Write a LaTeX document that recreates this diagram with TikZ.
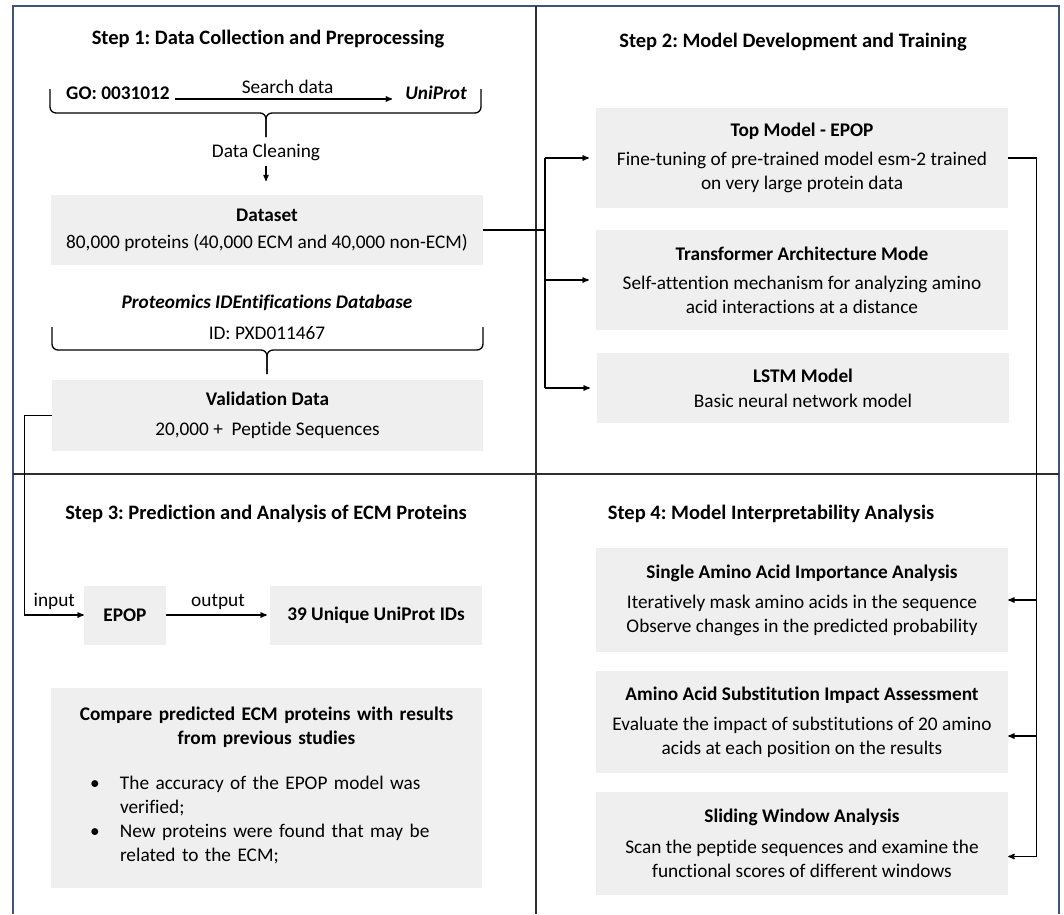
\documentclass[tikz,border=0pt]{standalone}
\usepackage{fontspec}
\setmainfont{Carlito}[Ligatures=NoCommon]
\usepackage{tikz}
\usetikzlibrary{positioning,arrows,calc}
\frenchspacing

\definecolor{boxgray}{RGB}{239,239,239}
\definecolor{framecol}{RGB}{64,82,118}
\definecolor{rulecol}{RGB}{45,45,45}

\begin{document}
\begin{tikzpicture}[x=1pt,y=1pt,>=stealth']
                \tikzstyle{every node}=[fill=none,rectangle,inner sep=5,align=center,font=\fontsize{19.3}{24}\selectfont]
                \tikzstyle{box}=[fill=boxgray,minimum width=412,minimum height=100]
                \tikzstyle{note}=[draw=none,fill=none]
                \tikzstyle{head}=[note,font=\fontsize{19.3}{24}\selectfont\bfseries]
                \tikzstyle{steptitle}=[note,font=\fontsize{20.5}{24}\selectfont\bfseries]
                \tikzstyle{link}=[draw,line width=1.3,->]
                \tikzstyle{brace}=[draw,line width=1.3,rounded corners=6]
                {
                    \useasboundingbox (0,0) rectangle (1064,-914);
                    \draw[framecol,line width=2] (13,-914) -- (13,-6) -- (1059,-6) -- (1059,-914);
                    \draw[rulecol,line width=1.6] (536,-6) -- (536,-914);
                    \draw[rulecol,line width=1.6] (13,-474) -- (1059,-474);

                    \node[steptitle] (step1) at (268,-39) {Step 1: Data Collection and Preprocessing};
                    \node[head] (go) at (118,-93) {GO: 0031012};
                    \node[head] (uniprot) at (436,-93) {\itshape UniProt};
                    \path[->,line width=1.3,shorten >=8]
                        ([yshift=-6]go.east) edge node[note,above] {Search data} ([yshift=-6]uniprot.west);
                    \draw[brace] (50,-89) -- (50,-113) -- (266,-113) -- (266,-137);
                    \draw[brace] (481,-89) -- (481,-113) -- (266,-113) -- (266,-137);
                    \node[note] (clean) at (266,-152) {Data Cleaning};
                    \coordinate (cleanend) at (266,-181);
                    \draw[->,line width=1.2] (clean.south) -- (cleanend);
                    \node[box,minimum width=432,minimum height=70] (dataset) at (267,-230)
                        {\textbf{Dataset}\\[3pt]80,000 proteins (40,000 ECM and 40,000 non-ECM)};
                    \node[head] (pride) at (267,-303) {\itshape Proteomics IDEntifications Database};
                    \node[note] (prideid) at (267,-333) {ID: PXD011467};
                    \draw[brace] (52,-327) -- (52,-350) -- (267,-350) -- (267,-374);
                    \draw[brace] (483,-327) -- (483,-350) -- (267,-350) -- (267,-374);
                    \node[box,minimum width=431,minimum height=71] (valid) at (267.5,-415.5)
                        {\textbf{Validation Data}\\[6pt]20,000 +\ \ Peptide Sequences};

                    \node[steptitle] (step2) at (793,-42) {Step 2: Model Development and Training};
                    \node[box] (epopm) at (802,-158)
                        {\textbf{Top Model - EPOP}\\[5pt]Fine-tuning of pre-trained model esm-2 trained\\on very large protein data};
                    \node[box] (trans) at (802,-280)
                        {\textbf{Transformer Architecture Mode}\\[5pt]Self-attention mechanism for analyzing amino\\acid interactions at a distance};
                    \node[box,minimum height=70] (lstm) at (803,-388)
                        {\textbf{LSTM Model}\\[1pt]Basic neural network model};
                    \coordinate (split) at (545,-230);
                    \draw[line width=1.3] (dataset.east) -- (split);
                    \draw[line width=1.3] (split |- epopm.west) -- (split |- lstm.west);
                    \foreach \m in {epopm,trans,lstm}
                        \draw[link,shorten >=7] (split |- \m.west) -- (\m.west);

                    \node[steptitle] (step3) at (266,-514) {Step 3: Prediction and Analysis of ECM Proteins};
                    \node[box,minimum width=82,minimum height=59,font=\fontsize{19.3}{24}\selectfont\bfseries] (epop) at (125,-615) {EPOP};
                    \node[box,minimum width=212,minimum height=59,font=\fontsize{19.3}{24}\selectfont\bfseries] (uids) at (376,-615) {39 Unique UniProt IDs};
                    \draw[link] (valid.west) -- ++(-27,0) |- node[note,above,pos=0.75] {input} (epop.west);
                    \path[->,line width=1.3,shorten >=3]
                        (epop) edge node[note,above] {output} (uids);
                    \node[box,minimum width=431,minimum height=200,text width=421,align=left] (compare) at (266.5,-788)
                        {{\centering\bfseries Compare predicted ECM proteins with results\\from previous studies\par}
                         \vspace{21pt}
                         \noindent\begin{tabular}[t]{@{\hspace{34pt}}p{30pt}@{}l@{}}
                             \textbullet & The accuracy of the EPOP model was\\
                                         & verified;\\
                             \textbullet & New proteins were found that may be\\
                                         & related to the ECM;
                         \end{tabular}};

                    \node[steptitle] (step4) at (771,-514) {Step 4: Model Interpretability Analysis};
                    \node[box,minimum height=104] (single) at (802,-600)
                        {\textbf{Single Amino Acid Importance Analysis}\\[6pt]Iteratively mask amino acids in the sequence\\Observe changes in the predicted probability};
                    \node[box,minimum height=102] (subst) at (802,-722)
                        {\textbf{Amino Acid Substitution Impact Assessment}\\[6pt]Evaluate the impact of substitutions of 20 amino\\acids at each position on the results};
                    \node[box,minimum height=103] (window) at (802,-843.5)
                        {\textbf{Sliding Window Analysis}\\[7pt]Scan the peptide sequences and examine the\\functional scores of different windows};
                    \draw[line width=1.3] (epopm.east) -| ([xshift=28,yshift=-13]window.east);
                    \draw[link] ([xshift=28]single.east) -- (single.east);
                    \draw[link] ([xshift=28,yshift=-14]subst.east) -- ([yshift=-14]subst.east);
                    \draw[link] ([xshift=28,yshift=-13]window.east) -- ([yshift=-13]window.east);
                }
\end{tikzpicture}
\end{document}
